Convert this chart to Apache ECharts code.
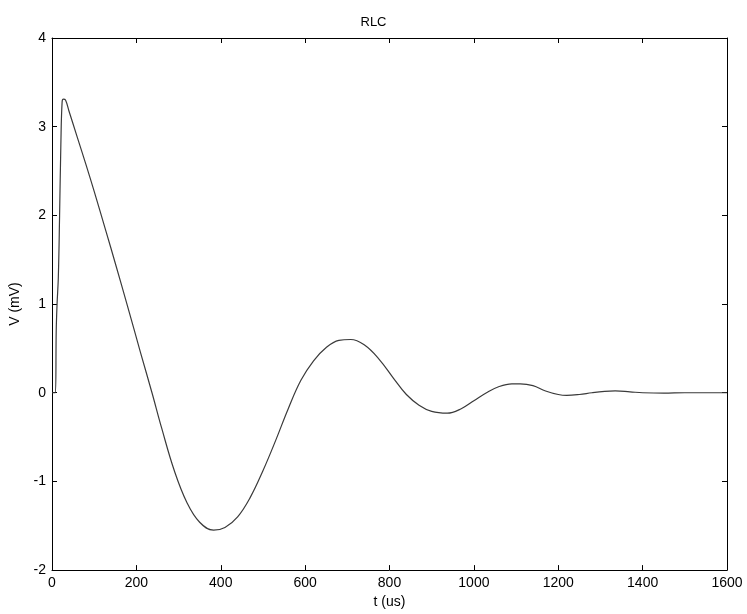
<!DOCTYPE html>
<html>
<head>
<meta charset="utf-8">
<script src="https://cdn.jsdelivr.net/npm/echarts@6.0.0/dist/echarts.min.js"></script>
<style>
  html, body { margin: 0; padding: 0; background: #fff; }
  #root { width: 747px; height: 614px; }
</style>
</head>
<body>
<div id="root"></div>
<script>
// time (us)
const timeUs = [0, 8, 10, 12, 15, 18, 21, 24, 27, 32, 40, 60, 80, 100, 128, 150, 180, 210, 237, 260,
  290, 320, 350, 383, 410, 440, 470, 500, 530, 560, 590, 620, 650, 680, 708, 740, 775, 810, 840, 870, 900, 937,
  970, 1000, 1030, 1060, 1090, 1110, 1140, 1170, 1200, 1220, 1250, 1280, 1310, 1335, 1370, 1400, 1450, 1500, 1600]
// voltage (mV)
const voltMv = [0, 0, 0.7, 1.0, 1.3, 2.0, 2.8, 3.28, 3.31, 3.30, 3.18, 2.88, 2.58, 2.27, 1.82, 1.46, 0.96, 0.45, 0, -0.4,
  -0.88, -1.24, -1.46, -1.55, -1.52, -1.40, -1.18, -0.88, -0.54, -0.18, 0.14, 0.36, 0.51, 0.59, 0.6, 0.54, 0.38, 0.16, -0.02, -0.14, -0.21, -0.23,
  -0.18, -0.09, 0, 0.07, 0.1, 0.1, 0.08, 0.02, -0.02, -0.03, -0.02, 0, 0.015, 0.02, 0.01, 0, -0.005, 0, 0]

const font = 'Liberation Sans, Arial, sans-serif'
const axisCommon = {
  axisLine: { show: true, onZero: false, lineStyle: { color: '#000', width: 1 } },
  axisTick: { show: true, inside: true, length: 5, lineStyle: { color: '#000' } },
  splitLine: { show: false }
}
const labelStyle = { fontFamily: font, fontSize: 14, color: '#000', margin: 6, formatter: v => String(v) }

const chart = echarts.init(document.getElementById('root'))
chart.setOption({
  animation: false,
  title: {
    text: 'RLC',
    left: 'center',
    top: 11,
    textStyle: { fontFamily: font, fontSize: 13, fontWeight: 'normal', color: '#000' }
  },
  grid: { left: 51, right: 20, top: 38, bottom: 43 },
  xAxis: [
    {
      type: 'value', min: 0, max: 1600, interval: 200, position: 'bottom',
      name: 't (us)', nameLocation: 'middle', nameGap: 24,
      nameTextStyle: { fontFamily: font, fontSize: 14, color: '#000' },
      axisLabel: labelStyle,
      ...axisCommon
    },
    {
      type: 'value', min: 0, max: 1600, interval: 200, position: 'top',
      axisLabel: { show: false },
      ...axisCommon
    }
  ],
  yAxis: [
    {
      type: 'value', min: -2, max: 4, interval: 1, position: 'left',
      name: 'V (mV)', nameLocation: 'middle', nameGap: 30, nameRotate: 90,
      nameTextStyle: { fontFamily: font, fontSize: 14, color: '#000' },
      axisLabel: labelStyle,
      ...axisCommon
    },
    {
      type: 'value', min: -2, max: 4, interval: 1, position: 'right',
      axisLabel: { show: false },
      ...axisCommon
    }
  ],
  series: [
    {
      type: 'line',
      data: timeUs.map((t, i) => [t, voltMv[i]]),
      showSymbol: false,
      smooth: 0.4,
      lineStyle: { color: '#3a3a3a', width: 1.2 }
    }
  ]
})
</script>
</body>
</html>
